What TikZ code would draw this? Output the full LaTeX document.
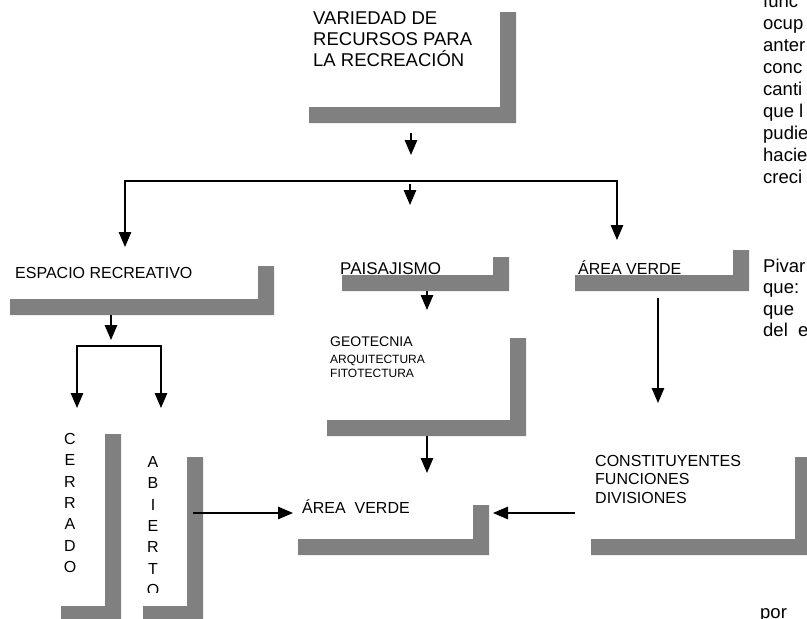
\documentclass[tikz,border=0pt]{standalone}
\usepackage{fontspec}
\setmainfont{Liberation Sans}
\usetikzlibrary{arrows.meta}
\definecolor{barg}{RGB}{128,128,128}
\newcommand\fsTop{\fontsize{18.5}{21}\selectfont}
\newcommand\fsMid{\fontsize{16}{18.4}\selectfont}
\newcommand\fsGeo{\fontsize{14}{16}\selectfont}
\newcommand\fsSmall{\fontsize{12}{14}\selectfont}
\newcommand\fsVert{\fontsize{16}{21.4}\selectfont}
\tikzset{
  lbl/.style={inner sep=0pt, anchor=base west, font=\fsMid},
  blk/.style={inner sep=0pt, anchor=north west, align=left},
  vert/.style={inner sep=0pt, anchor=north, align=center, font=\fsVert},
  side/.style={inner sep=0pt, anchor=base west, font=\fsTop},
  bar/.style={fill=barg},
  conn/.style={->, line width=1.2pt},
  >={Triangle[length=15pt,width=12.5pt]}
}
\begin{document}
\begin{tikzpicture}[x=1pt,y=-1pt]
  \useasboundingbox (0,0) rectangle (807,619);
  \clip (0,0) rectangle (807,619);
  % gray shadows of the boxes
  \fill[bar] (309,107) -| (500,12) -- (516,12) |- (309,123) -- cycle;
  \fill[bar] (10,299) -| (258,266) -- (274,266) |- (10,315) -- cycle;
  \fill[bar] (342,275) -| (493,257) -- (509,257) |- (342,291) -- cycle;
  \fill[bar] (575,275) -| (733,250) -- (749,250) |- (575,291) -- cycle;
  \fill[bar] (327,420) -| (510,338) -- (526,338) |- (327,436) -- cycle;
  \fill[bar] (61,606) -| (105,434) -- (121,434) |- (61,622) -- cycle;
  \fill[bar] (143,606) -| (187,457) -- (203,457) |- (143,622) -- cycle;
  \fill[bar] (298,539) -| (473,505) -- (489,505) |- (298,555) -- cycle;
  \fill[bar] (591,539) -| (795,457) -- (811,457) |- (591,555) -- cycle;

  % labels
  \node[blk, font=\fsTop] (recursos) at (313,11.5)
    {VARIEDAD DE\\RECURSOS PARA\\LA RECREACIÓN};
  \node[lbl] (espacio) at (15,278) {ESPACIO RECREATIVO};
  \node[lbl, font=\fontsize{17}{19}\selectfont] (paisaje) at (340,274) {PAISAJISMO};
  \node[lbl] (verdeA) at (578,274) {ÁREA VERDE};
  \node[inner sep=0pt, anchor=base west, font=\fsGeo] (geo) at (330,346) {GEOTECNIA};
  \node[inner sep=0pt, anchor=base west, font=\fsSmall] (arq) at (330,363.5) {ARQUITECTURA};
  \node[inner sep=0pt, anchor=base west, font=\fsSmall] (fito) at (330,377.5) {FITOTECTURA};
  \node[vert] (cerrado) at (70,433) {C\\E\\R\\R\\A\\D\\O};
  \begin{scope}
    \clip (130,440) rectangle (185,592);
    \node[vert] (abierto) at (153,456) {A\\B\\I\\E\\R\\T\\O};
  \end{scope}
  \node[lbl] (verdeB) at (302,513.5) {ÁREA\ \ VERDE};
  \node[blk, font=\fsMid] (constit) at (595,455)
    {CONSTITUYENTES\\FUNCIONES\\DIVISIONES};

  % text running out of the page on the right
  \node[side] (s1) at (763,7) {func};
  \node[side] (s2) at (763,29) {ocup};
  \node[side] (s3) at (763,51) {anter};
  \node[side] (s4) at (763,73) {conc};
  \node[side] (s5) at (763,95) {canti};
  \node[side] (s6) at (763,117) {que l};
  \node[side] (s7) at (763,139) {pudie};
  \node[side] (s8) at (763,161) {hacie};
  \node[side] (s9) at (763,183) {creci};
  \node[side] (p1) at (763,272) {Pivar};
  \node[side] (p2) at (763,293.5) {que:};
  \node[side] (p3) at (763,315) {que};
  \node[side] (p4) at (763,336.5) {del\ \ e};
  \node[side] (p5) at (760,618) {por};

  % connector ends
  \coordinate (top-a) at (411,133);
  \coordinate (top-b) at (411,155);
  \coordinate (br-l) at (125,247);
  \coordinate (br-r) at (617,240);
  \coordinate (br-y) at (0,181);
  \coordinate (mid-a) at (410,184);
  \coordinate (mid-b) at (410,205);
  \coordinate (esp-a) at (111,315);
  \coordinate (esp-b) at (111,340);
  \coordinate (fork) at (111,346);
  \coordinate (cer-in) at (77,408);
  \coordinate (abi-in) at (161,408);
  \coordinate (pai-a) at (427,291);
  \coordinate (geo-in) at (427,310);
  \coordinate (geo-a) at (427,436);
  \coordinate (vb-top) at (427,473);
  \coordinate (abi-out) at (193,513);
  \coordinate (vb-left) at (293,513);
  \coordinate (con-out) at (575,513);
  \coordinate (vb-right) at (493,513);
  \coordinate (va-out) at (658,298);
  \coordinate (con-in) at (658,403);

  % connectors
  \draw[conn] (top-a) -- (top-b);
  \draw[conn, <->] (br-l) -- (br-l |- br-y) -- (br-r |- br-y) -- (br-r);
  \draw[conn] (mid-a) -- (mid-b);
  \draw[conn] (esp-a) -- (esp-b);
  \draw[conn, <->] (cer-in) -- (cer-in |- fork) -- (abi-in |- fork) -- (abi-in);
  \draw[conn] (pai-a) -- (geo-in);
  \draw[conn] (geo-a) -- (vb-top);
  \draw[conn] (abi-out) -- (vb-left);
  \draw[conn] (con-out) -- (vb-right);
  \draw[conn] (va-out) -- (con-in);
\end{tikzpicture}
\end{document}
